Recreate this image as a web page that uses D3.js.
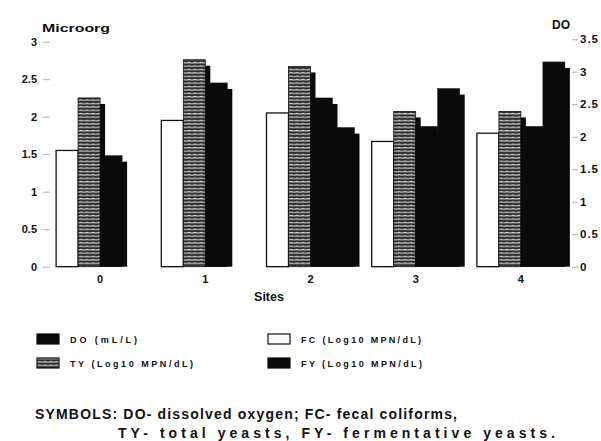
<!DOCTYPE html>
<html><head><meta charset="utf-8">
<script src="https://cdn.jsdelivr.net/npm/d3@7"></script>
<style>body{margin:0;background:#fff} svg{display:block;font-family:"Liberation Sans",Arial,sans-serif}</style>
</head><body><svg id="c" width="601" height="441"></svg>
<script>
const sites = ["0","1","2","3","4"];
const seriesKeys = ["FC","TY","FY","DO"];
const fcValues = [1.55,1.95,2.05,1.67,1.78];
const tyValues = [2.25,2.76,2.67,2.07,2.07];
const fyValues = [1.48,2.45,2.25,1.87,1.87];
const doValues = [null,null,2.14,2.74,3.15];
const leftTicks = [0,0.5,1,1.5,2,2.5,3];
const rightTicks = [0,0.5,1,1.5,2,2.5,3,3.5];
const legendItems = [
  {key:"DO", label:"DO (mL/L)", col:0, row:0, len:67},
  {key:"TY", label:"TY (Log10 MPN/dL)", col:0, row:1, len:123},
  {key:"FC", label:"FC (Log10 MPN/dL)", col:1, row:0, len:120},
  {key:"FY", label:"FY (Log10 MPN/dL)", col:1, row:1, len:121}
];
const symbolLines = ["SYMBOLS:  DO- dissolved oxygen;  FC- fecal coliforms,",
                     "TY- total yeasts,   FY- fermentative yeasts."];

const svg = d3.select("#c");
const defs = svg.append("defs");
const pat = defs.append("pattern").attr("id","hatch").attr("patternUnits","userSpaceOnUse")
  .attr("width",6).attr("height",3.4);
pat.append("rect").attr("width",6).attr("height",3.4).attr("fill","#2b2b2b");
pat.append("path").attr("d","M0,1.9 L3,1.3 L6,1.9").attr("stroke","#cfcfcf").attr("stroke-width",1.1).attr("fill","none");

const base = 266.7;
const x = d3.scaleBand().domain(sites).range([47.5, 573.5]);
const xs = d3.scaleBand().domain(seriesKeys).range([0, 88]);
const yL = d3.scaleLinear().domain([0,3]).range([base, 41.7]);
const yR = d3.scaleLinear().domain([0,3.5]).range([base, 39.2]);

const valuesBy = {FC:fcValues, TY:tyValues, FY:fyValues, DO:doValues};
const scaleBy = {FC:yL, TY:yL, FY:yL, DO:yR};
const style = {
  FC:{fill:"#fff", stroke:"#111", sw:1.3},
  TY:{fill:"url(#hatch)", stroke:"#111", sw:0.8},
  FY:{fill:"#0a0a0a", stroke:"#0a0a0a", sw:0.5},
  DO:{fill:"#0a0a0a", stroke:"#0a0a0a", sw:0.5}
};
const sdx = 5, sdy = 6;

const gBars = svg.append("g");
sites.forEach((s,i) => {
  const gx = x(s) + (x.bandwidth() - 88)/2;
  seriesKeys.forEach(k => {
    const v = valuesBy[k][i];
    if (v == null) return;
    const yy = scaleBy[k](v);
    const bx = gx + xs(k), bw = xs.bandwidth();
    gBars.append("rect").attr("x", bx + sdx).attr("y", yy + sdy)
      .attr("width", bw).attr("height", Math.max(0, base - yy - sdy)).attr("fill", "#0a0a0a");
    gBars.append("rect").attr("x", bx).attr("y", yy).attr("width", bw).attr("height", base - yy)
      .attr("fill", style[k].fill).attr("stroke", style[k].stroke).attr("stroke-width", style[k].sw);
  });
});

// Left axis
const axL = svg.append("g").attr("transform","translate(50,0)")
  .call(d3.axisLeft(yL).tickValues(leftTicks).tickSize(7).tickPadding(6).tickFormat(d3.format("~g")));
axL.select(".domain").remove();
axL.selectAll("line").attr("stroke","#999").attr("stroke-width",0.8);
axL.selectAll("text").attr("font-size",11).attr("font-weight","bold").attr("fill","#111");

// Right axis
const axR = svg.append("g").attr("transform","translate(572,0)")
  .call(d3.axisRight(yR).tickValues(rightTicks).tickSize(6).tickPadding(2).tickFormat(d3.format("~g")));
axR.select(".domain").remove();
axR.selectAll("line").attr("stroke","#999").attr("stroke-width",0.8);
axR.selectAll("text").attr("font-size",11.5).attr("font-weight","bold").attr("fill","#111").attr("letter-spacing",1);

// X axis labels
const axX = svg.append("g").attr("transform",`translate(0,${base})`)
  .call(d3.axisBottom(x).tickSize(0).tickPadding(9));
axX.select(".domain").remove();
axX.selectAll("text").attr("font-size",11).attr("font-weight","bold").attr("fill","#111");

// Axis titles
svg.append("text").attr("x",42).attr("y",32).attr("font-size",11).attr("font-weight","bold")
  .attr("textLength",68).attr("lengthAdjust","spacingAndGlyphs").attr("fill","#111").text("Microorg");
svg.append("text").attr("x",552).attr("y",29).attr("font-size",12).attr("font-weight","bold")
  .attr("fill","#111").text("DO");
svg.append("text").attr("x",269).attr("y",301).attr("text-anchor","middle").attr("font-size",12.5)
  .attr("font-weight","bold").attr("fill","#111").text("Sites");

// Legend
const colX = [37, 268], rowY = [339, 363];
const gL = svg.append("g");
legendItems.forEach(it => {
  const lx = colX[it.col], ly = rowY[it.row];
  gL.append("rect").attr("x",lx).attr("y",ly-5).attr("width",22).attr("height",10)
    .attr("fill",style[it.key].fill).attr("stroke",style[it.key].stroke).attr("stroke-width",1.2);
  gL.append("text").attr("x",lx+33).attr("y",ly+3.5).attr("font-size",9).attr("font-weight","bold")
    .attr("fill","#111").attr("textLength",it.len).attr("lengthAdjust","spacing").text(it.label);
});

// Symbols text
svg.append("text").attr("x",35).attr("y",419).attr("font-size",14).attr("font-weight","bold").attr("fill","#111")
  .attr("textLength",422).attr("lengthAdjust","spacing").text(symbolLines[0]);
svg.append("text").attr("x",118).attr("y",438).attr("font-size",14).attr("font-weight","bold").attr("fill","#111")
  .attr("textLength",437).attr("lengthAdjust","spacing").text(symbolLines[1]);
</script></body></html>
